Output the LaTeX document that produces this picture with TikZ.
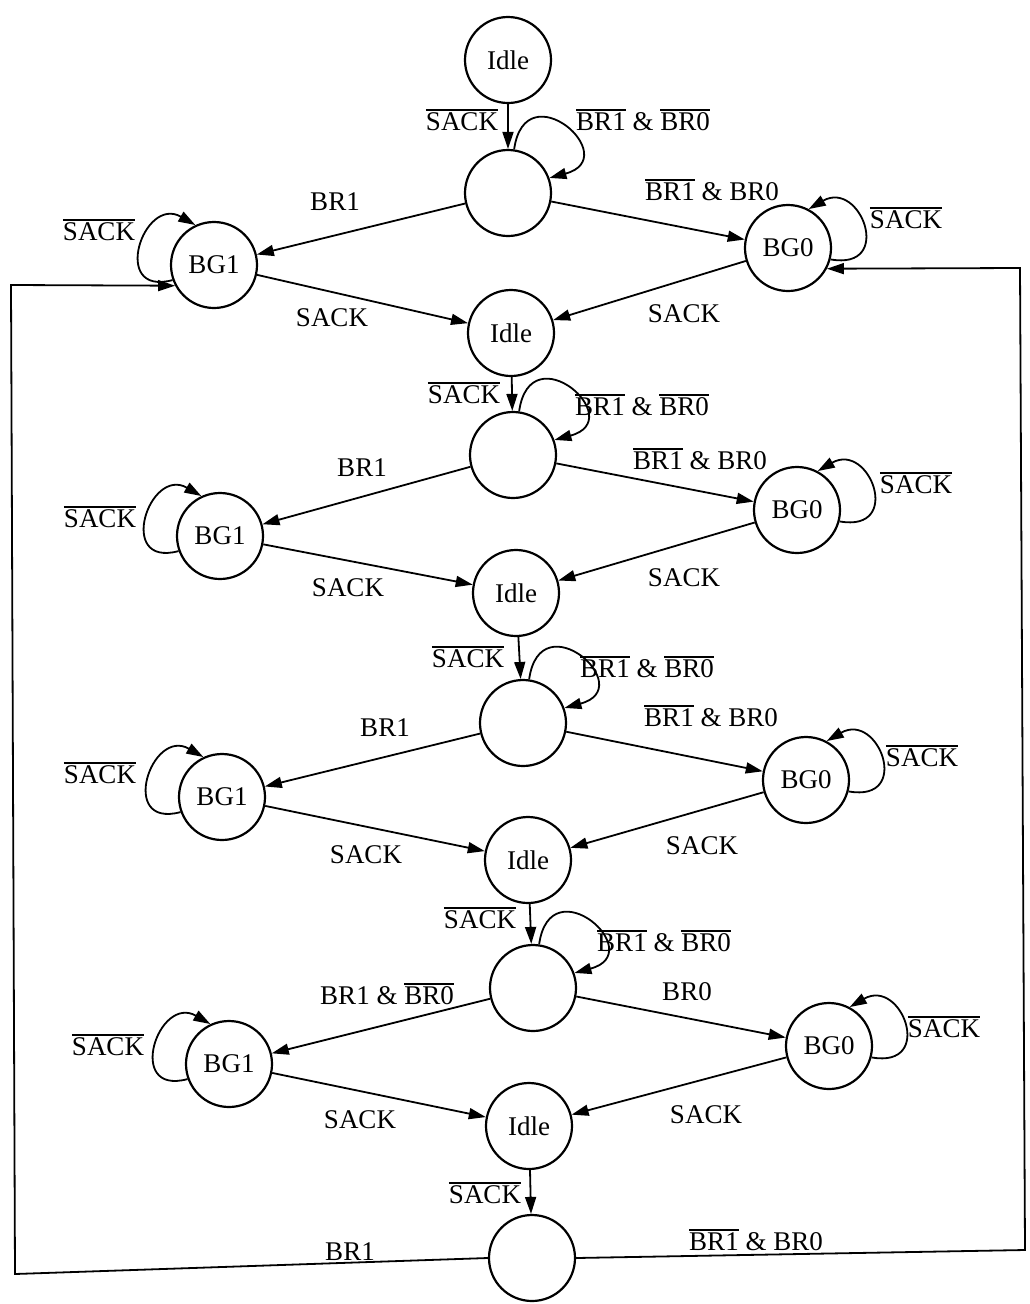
\documentclass[tikz,border=0pt]{standalone}
\usepackage{fontspec}
\setmainfont{Liberation Serif}
\usetikzlibrary{arrows.meta}
\newcommand\ovl[1]{\vbox{\hrule height 1.5pt\kern 2.2pt\hbox{#1}}}
\begin{document}
\begin{tikzpicture}[x=1pt,y=1pt,
  every node/.style={font=\fontsize{27}{31}\selectfont},
  st/.style={circle,draw,line width=2.2pt,minimum size=86pt,inner sep=0pt},
  tr/.style={line width=1.8pt,-{Triangle[length=17pt,width=11pt]}},
  lb/.style={inner sep=0pt}]
\useasboundingbox (0,0) rectangle (1029,-1304);
% states
\node[st] (I0) at (508,-60) {Idle};
\node[st] (C0) at (508,-193) {};
\node[st] (G1a) at (214,-265) {BG1};
\node[st] (G0a) at (788,-248) {BG0};
\node[st] (I1) at (511,-333) {Idle};
\node[st] (C1) at (513,-455) {};
\node[st] (G1b) at (220,-536) {BG1};
\node[st] (G0b) at (797,-510) {BG0};
\node[st] (I2) at (516,-593) {Idle};
\node[st] (C2) at (523,-723) {};
\node[st] (G1c) at (222,-797) {BG1};
\node[st] (G0c) at (806,-780) {BG0};
\node[st] (I3) at (528,-860) {Idle};
\node[st] (C3) at (533,-988) {};
\node[st] (G1d) at (229,-1064) {BG1};
\node[st] (G0d) at (829,-1046) {BG0};
\node[st] (I4) at (529,-1126) {Idle};
\node[st] (C4) at (532,-1258) {};
% edges
\foreach \i/\c/\gl/\gr/\n in {I0/C0/G1a/G0a/I1, I1/C1/G1b/G0b/I2, I2/C2/G1c/G0c/I3, I3/C3/G1d/G0d/I4}{
  \draw[tr] (\i) -- (\c);
  \draw[tr] (\c) -- (\gl);
  \draw[tr] (\c) -- (\gr);
  \draw[tr] (\gl) -- (\n);
  \draw[tr] (\gr) -- (\n);
  \draw[tr] (\c.82) .. controls +(82:80) and +(15:78) .. (\c.20);
  \draw[tr] (\gl.200) .. controls +(195:65) and +(150:60) .. (\gl.115);
  \draw[tr] (\gr.-15) .. controls +(-10:65) and +(30:60) .. (\gr.62);
}
\draw[tr] (I4) -- (C4);
\coordinate (LB) at (15,-1274);
\coordinate (LT) at (11,-285);
\coordinate (RB) at (1025,-1250);
\coordinate (RT) at (1020,-268);
\draw[tr] (C4.west) -- (LB) -- (LT) -- (G1a.208);
\draw[tr] (C4.east) -- (RB) -- (RT) -- (G0a.-28);
% labels row 0
\node[lb] at (462,-120) {\ovl{SACK}};
\node[lb] at (643,-120) {\ovl{BR1} \& \ovl{BR0}};
\node[lb] at (335,-202) {BR1};
\node[lb] at (712,-190) {\ovl{BR1} \& BR0};
\node[lb] at (99,-230) {\ovl{SACK}};
\node[lb] at (906,-218) {\ovl{SACK}};
\node[lb] at (332,-318) {SACK};
\node[lb] at (684,-314) {SACK};
% row 1
\node[lb] at (464,-393) {\ovl{SACK}};
\node[lb] at (642,-405) {\ovl{BR1} \& \ovl{BR0}};
\node[lb] at (362,-468) {BR1};
\node[lb] at (700,-459) {\ovl{BR1} \& BR0};
\node[lb] at (100,-517) {\ovl{SACK}};
\node[lb] at (916,-483) {\ovl{SACK}};
\node[lb] at (348,-588) {SACK};
\node[lb] at (684,-578) {SACK};
% row 2
\node[lb] at (468,-657) {\ovl{SACK}};
\node[lb] at (647,-667) {\ovl{BR1} \& \ovl{BR0}};
\node[lb] at (385,-728) {BR1};
\node[lb] at (711,-716) {\ovl{BR1} \& BR0};
\node[lb] at (100,-773) {\ovl{SACK}};
\node[lb] at (922,-756) {\ovl{SACK}};
\node[lb] at (366,-855) {SACK};
\node[lb] at (702,-846) {SACK};
% row 3
\node[lb] at (480,-918) {\ovl{SACK}};
\node[lb] at (664,-941) {\ovl{BR1} \& \ovl{BR0}};
\node[lb] at (387,-994) {BR1 \& \ovl{BR0}};
\node[lb] at (687,-992) {BR0};
\node[lb] at (108,-1045) {\ovl{SACK}};
\node[lb] at (944,-1027) {\ovl{SACK}};
\node[lb] at (360,-1120) {SACK};
\node[lb] at (706,-1115) {SACK};
% row 4
\node[lb] at (485,-1193) {\ovl{SACK}};
\node[lb] at (350,-1252) {BR1};
\node[lb] at (756,-1240) {\ovl{BR1} \& BR0};
\end{tikzpicture}
\end{document}
